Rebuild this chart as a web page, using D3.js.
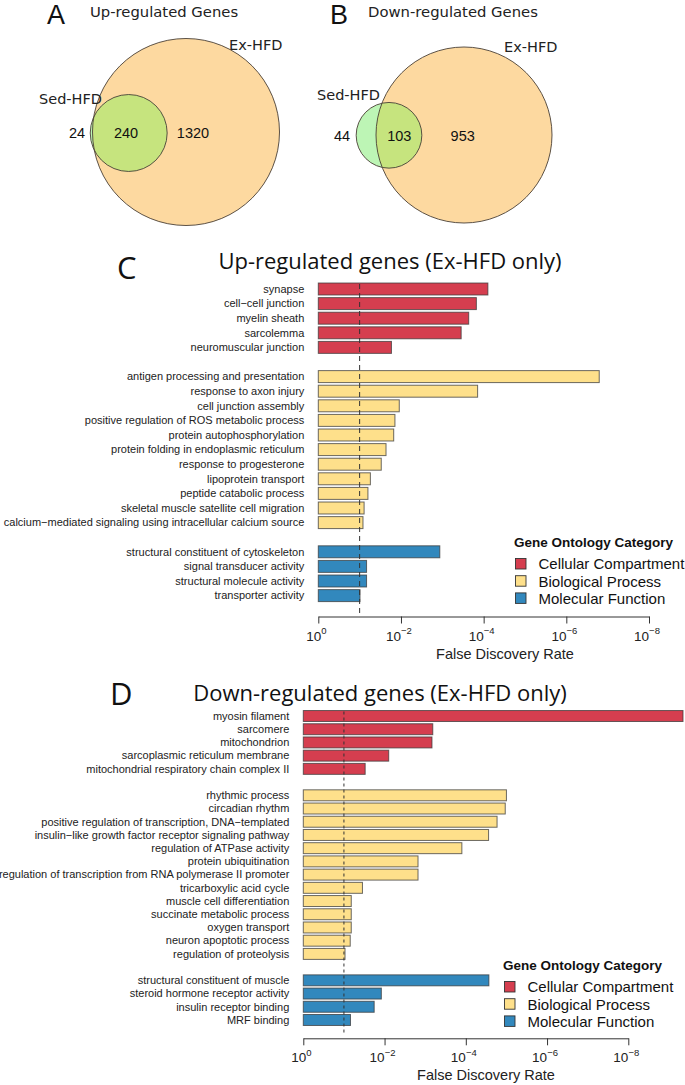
<!DOCTYPE html>
<html>
<head>
<meta charset="utf-8">
<script src="https://cdn.jsdelivr.net/npm/d3@7"></script>
<style>
  html, body { margin: 0; padding: 0; background: #fff; }
  svg { display: block; }
</style>
</head>
<body>
<svg id="chart" width="685" height="1085"></svg>
<script>
// ---------------- DATA ----------------
// Venn counts
const vennUpCounts = { sedOnly: 24, both: 240, exOnly: 1320 };
const vennDownCounts = { sedOnly: 44, both: 103, exOnly: 953 };
const vennSetNames = ["Sed-HFD", "Ex-HFD"];

// GO categories
const goCategories = ["Cellular Compartment", "Biological Process", "Molecular Function"];
const goColors = ["#d53e4f", "#fee08b", "#3288bd"];

// Panel C: up-regulated genes (Ex-HFD only), FDR values
const upLabels = [
  "synapse", "cell\u2212cell junction", "myelin sheath", "sarcolemma", "neuromuscular junction",
  "antigen processing and presentation", "response to axon injury", "cell junction assembly",
  "positive regulation of ROS metabolic process", "protein autophosphorylation",
  "protein folding in endoplasmic reticulum", "response to progesterone", "lipoprotein transport",
  "peptide catabolic process", "skeletal muscle satellite cell migration",
  "calcium\u2212mediated signaling using intracellular calcium source",
  "structural constituent of cytoskeleton", "signal transducer activity",
  "structural molecule activity", "transporter activity"
];
const upGroup = [0,0,0,0,0, 1,1,1,1,1,1,1,1,1,1,1, 2,2,2,2];
const upFdr = [
  7.9e-5, 1.5e-4, 2.3e-4, 3.5e-4, 1.7e-2,
  1.6e-7, 1.4e-4, 1.1e-2, 1.4e-2, 1.5e-2, 2.3e-2, 3.0e-2, 5.5e-2, 6.3e-2, 7.8e-2, 8.3e-2,
  1.15e-3, 6.8e-2, 6.8e-2, 9.8e-2
];

// Panel D: down-regulated genes (Ex-HFD only), FDR values
const downLabels = [
  "myosin filament", "sarcomere", "mitochondrion", "sarcoplasmic reticulum membrane",
  "mitochondrial respiratory chain complex II",
  "rhythmic process", "circadian rhythm", "positive regulation of transcription, DNA\u2212templated",
  "insulin\u2212like growth factor receptor signaling pathway", "regulation of ATPase activity",
  "protein ubiquitination", "regulation of transcription from RNA polymerase II promoter",
  "tricarboxylic acid cycle", "muscle cell differentiation", "succinate metabolic process",
  "oxygen transport", "neuron apoptotic process", "regulation of proteolysis",
  "structural constituent of muscle", "steroid hormone receptor activity",
  "insulin receptor binding", "MRF binding"
];
const downGroup = [0,0,0,0,0, 1,1,1,1,1,1,1,1,1,1,1,1,1, 2,2,2,2];
const downFdr = [
  4.5e-10, 6.5e-4, 6.8e-4, 7.9e-3, 3.0e-2,
  1.0e-5, 1.07e-5, 1.7e-5, 2.75e-5, 1.25e-4, 1.5e-3, 1.5e-3, 3.5e-2, 6.6e-2, 6.6e-2, 6.6e-2, 7.0e-2, 9.4e-2,
  2.7e-5, 1.2e-2, 1.8e-2, 6.9e-2
];

const fdrTicks = [1, 1e-2, 1e-4, 1e-6, 1e-8];
const fdrTickExp = ["0", "\u22122", "\u22124", "\u22126", "\u22128"];
const fdrThreshold = 0.1;

// ---------------- DRAWING ----------------
const svg = d3.select("#chart");
const labelFont = "'Liberation Sans', Arial, Helvetica, sans-serif";
const titleFont = "'Open Sans', 'Noto Sans', sans-serif";
const vennFont = "'DejaVu Sans', sans-serif";

// ---- Venn diagrams ----
function drawVenn(cfg) {
  const g = svg.append("g");
  const total = cfg.counts.both + cfg.counts.exOnly;
  const sedTotal = cfg.counts.both + cfg.counts.sedOnly;
  const r = d3.scaleSqrt().domain([0, total]).range([0, cfg.bigR]);
  const bigR = r(total), smallR = r(sedTotal);
  const clipId = "clip" + cfg.id;
  g.append("clipPath").attr("id", clipId)
    .append("circle").attr("cx", cfg.bigC[0]).attr("cy", cfg.bigC[1]).attr("r", bigR);
  g.append("circle").attr("cx", cfg.bigC[0]).attr("cy", cfg.bigC[1]).attr("r", bigR)
    .attr("fill", "#fdd9a0");
  g.append("circle").attr("cx", cfg.smallC[0]).attr("cy", cfg.smallC[1]).attr("r", smallR)
    .attr("fill", "#bdf5b5");
  g.append("circle").attr("cx", cfg.smallC[0]).attr("cy", cfg.smallC[1]).attr("r", smallR)
    .attr("fill", "#c6e47e").attr("clip-path", `url(#${clipId})`);
  g.append("circle").attr("cx", cfg.bigC[0]).attr("cy", cfg.bigC[1]).attr("r", bigR)
    .attr("fill", "none").attr("stroke", "#4a4036").attr("stroke-width", 0.9);
  g.append("circle").attr("cx", cfg.smallC[0]).attr("cy", cfg.smallC[1]).attr("r", smallR)
    .attr("fill", "none").attr("stroke", "#4a4036").attr("stroke-width", 0.9);

  // panel letter & title
  g.append("text").attr("x", cfg.letterX).attr("y", 24).text(cfg.letter)
    .attr("font-family", labelFont).attr("font-size", 27).attr("fill", "#111");
  g.append("text").attr("x", cfg.titleX).attr("y", 17).text(cfg.title)
    .attr("font-family", vennFont).attr("font-size", 14.8).attr("fill", "#222");
  // set names
  g.append("text").attr("x", cfg.exLabel[0]).attr("y", cfg.exLabel[1]).text(vennSetNames[1])
    .attr("font-family", vennFont).attr("font-size", 14.5).attr("fill", "#222");
  g.append("text").attr("x", cfg.sedLabel[0]).attr("y", cfg.sedLabel[1]).text(vennSetNames[0])
    .attr("font-family", vennFont).attr("font-size", 14.5).attr("fill", "#222").attr("text-anchor", "end");
  // counts
  const cy = cfg.bigC[1] + 5.5;
  [[cfg.numX[0], cfg.counts.sedOnly], [cfg.numX[1], cfg.counts.both], [cfg.numX[2], cfg.counts.exOnly]]
    .forEach(([x, v]) => {
      g.append("text").attr("x", x).attr("y", cy).text(v).attr("text-anchor", "middle")
        .attr("font-family", labelFont).attr("font-size", 14.5).attr("fill", "#111");
    });
}

drawVenn({
  id: "A", counts: vennUpCounts, bigR: 93.5, bigC: [186, 132], smallC: [128.7, 133],
  letter: "A", letterX: 47, title: "Up-regulated Genes", titleX: 90,
  exLabel: [229, 50], sedLabel: [102, 104], numX: [77, 126, 193]
});
drawVenn({
  id: "B", counts: vennDownCounts, bigR: 88, bigC: [464, 135], smallC: [389, 135.3],
  letter: "B", letterX: 330, title: "Down-regulated Genes", titleX: 368,
  exLabel: [504, 52], sedLabel: [380, 100], numX: [342, 399.3, 462.7]
});

// ---- GO bar charts ----
function drawGO(cfg) {
  const g = svg.append("g");
  // Build rows with a blank separator between groups
  const rows = [];
  cfg.labels.forEach((lab, i) => {
    if (i > 0 && cfg.group[i] !== cfg.group[i - 1]) rows.push({ blank: true, key: "gap" + i });
    rows.push({ label: lab, fdr: cfg.fdr[i], group: cfg.group[i], key: "r" + i });
  });
  const y = d3.scaleBand().domain(rows.map(r => r.key))
    .range([cfg.yTop, cfg.yBottom]).paddingInner(cfg.pad).paddingOuter(cfg.pad / 2);
  const x = d3.scaleLog().domain([1, 1e-8]).range([cfg.x0, cfg.x1]);
  const data = rows.filter(r => !r.blank);

  // titles
  g.append("text").attr("x", cfg.letterX).attr("y", cfg.letterY).text(cfg.letter)
    .attr("font-family", titleFont).attr("font-size", 31).attr("fill", "#111");
  g.append("text").attr("x", cfg.titleCX).attr("y", cfg.titleY).text(cfg.title)
    .attr("text-anchor", "middle")
    .attr("font-family", titleFont).attr("font-size", 22).attr("fill", "#111");

  // bars
  g.selectAll("rect.bar").data(data).join("rect").attr("class", "bar")
    .attr("x", x(1)).attr("y", d => y(d.key))
    .attr("width", d => x(d.fdr) - x(1)).attr("height", y.bandwidth())
    .attr("fill", d => goColors[d.group])
    .attr("stroke", "#3a3a3a").attr("stroke-opacity", 0.75).attr("stroke-width", 1);

  // labels
  g.selectAll("text.lab").data(data).join("text").attr("class", "lab")
    .attr("x", x(1) - 14).attr("y", d => y(d.key) + y.bandwidth() / 2 + 3.8)
    .attr("text-anchor", "end").text(d => d.label)
    .attr("font-family", labelFont).attr("font-size", 11).attr("fill", "#222");

  // threshold line
  g.append("line").attr("x1", x(fdrThreshold)).attr("x2", x(fdrThreshold))
    .attr("y1", y(rows[0].key) + 1).attr("y2", cfg.axisY - 3)
    .attr("stroke", "#333").attr("stroke-width", 1).attr("stroke-dasharray", cfg.dash);

  // axis
  const axis = d3.axisBottom(x).tickValues(fdrTicks).tickFormat("").tickSize(7).tickSizeOuter(0);
  const ag = g.append("g").attr("transform", `translate(0,${cfg.axisY})`).call(axis);
  ag.select(".domain").attr("stroke", "#333");
  ag.selectAll(".tick line").attr("stroke", "#333");
  fdrTicks.forEach((t, i) => {
    const tx = g.append("text").attr("x", x(t) - 2).attr("y", cfg.axisY + 24)
      .attr("text-anchor", "middle").attr("font-family", labelFont).attr("fill", "#222");
    tx.append("tspan").text("10").attr("font-size", 13.5);
    tx.append("tspan").text(fdrTickExp[i]).attr("font-size", 9.5).attr("dy", -6.5);
  });
  g.append("text").attr("x", cfg.xlabX).attr("y", cfg.axisY + 42).attr("text-anchor", "middle")
    .text("False Discovery Rate").attr("font-family", labelFont).attr("font-size", 14.5).attr("fill", "#222");

  // legend
  const lg = g.append("g");
  lg.append("text").attr("x", cfg.legX).attr("y", cfg.legY + 5).text("Gene Ontology Category")
    .attr("font-family", labelFont).attr("font-weight", "bold").attr("font-size", 13.5).attr("fill", "#111");
  goCategories.forEach((c, i) => {
    const yy = cfg.legY + 22.5 + i * 17.2;
    lg.append("rect").attr("x", cfg.legX + 1.5).attr("y", yy - 5.5).attr("width", 10.5).attr("height", 10.5)
      .attr("fill", goColors[i]).attr("stroke", "#333").attr("stroke-width", 0.9);
    lg.append("text").attr("x", cfg.legX + 24.5).attr("y", yy + 5.3).text(c)
      .attr("font-family", labelFont).attr("font-size", 15).attr("fill", "#111");
  });
}

drawGO({
  labels: upLabels, group: upGroup, fdr: upFdr,
  yTop: 281.7, yBottom: 602.9, pad: 0.18, x0: 318.3, x1: 649,
  letter: "C", letterX: 117, letterY: 279,
  title: "Up-regulated genes (Ex-HFD only)", titleCX: 390, titleY: 269,
  axisY: 616.5, xlabX: 505, legX: 514, legY: 541.5, dash: "5,4"
});
drawGO({
  labels: downLabels, group: downGroup, fdr: downFdr,
  yTop: 709.4, yBottom: 1026.6, pad: 0.17, x0: 303.3, x1: 628.3,
  letter: "D", letterX: 110, letterY: 705,
  title: "Down-regulated genes (Ex-HFD only)", titleCX: 380, titleY: 701,
  axisY: 1038.3, xlabX: 486, legX: 503, legY: 964.5, dash: "3,3"
});
</script>
</body>
</html>
